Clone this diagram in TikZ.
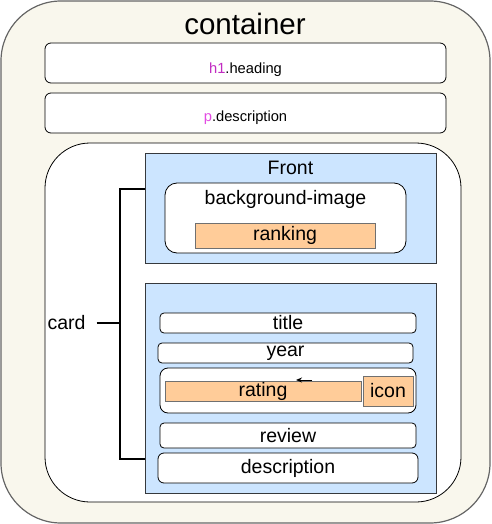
\documentclass[tikz,border=0pt]{standalone}
\usepackage{fontspec}
\setmainfont{Liberation Sans}
\usetikzlibrary{arrows.meta,positioning}
\definecolor{shellFill}{HTML}{F9F7ED}
\definecolor{shellLine}{HTML}{666666}
\definecolor{paneBlue}{HTML}{CCE5FF}
\definecolor{paneLine}{HTML}{36393D}
\definecolor{chipOrange}{HTML}{FFCC99}
\definecolor{chipLine}{HTML}{707070}
\definecolor{tagPurple}{HTML}{C22BC2}
\definecolor{tagPink}{HTML}{E34BE3}
\newcommand{\txt}[1]{\fontsize{#1}{#1}\selectfont}

\begin{document}
\begin{tikzpicture}[x=1pt, y=-1pt, inner sep=0pt,
    every node/.style={font=\txt{19.5}},
    whitebox/.style={draw=black, line width=0.8pt, fill=white, rounded corners=4pt},
    panebox/.style={draw=paneLine, line width=0.8pt, fill=paneBlue},
    chipbox/.style={draw=chipLine, line width=1pt, fill=chipOrange}]
    \useasboundingbox (0,0) rectangle (491,524);

    % outer container
    \node[draw=shellLine, line width=1.2pt, fill=shellFill, rounded corners=60pt, minimum width=489pt, minimum height=522pt] (container) at (245.5,262) {};
    \node[font=\txt{29.5}] (containerlabel) at (245,24) {container};
    \node[whitebox, rounded corners=6pt, minimum width=401pt, minimum height=40pt] (heading) at (245.5,63) {};
    \node[font=\txt{14.7}] (headingtext) at ([yshift=-7pt]heading.center) {\textcolor{tagPurple}{h1}.heading};
    \node[whitebox, rounded corners=6pt, minimum width=401pt, minimum height=40pt] (intro) at (245.5,113) {};
    \node[font=\txt{14.7}] (introtext) at ([yshift=-5pt]intro.center) {\textcolor{tagPink}{p}.description};

    % card
    \node[whitebox, rounded corners=45pt, minimum width=416pt, minimum height=359pt] (card) at (253,322.5) {};
    \node[panebox, minimum width=291pt, minimum height=110pt] (front) at (290.5,208) {};
    \node (fronttext) at (290.5,168) {Front};
    \node[whitebox, rounded corners=12pt, minimum width=241pt, minimum height=70pt] (bgimage) at (285.5,218) {};
    \node (bgimagetext) at (285.5,199) {background-image};
    \node[chipbox, minimum width=180pt, minimum height=25pt] (ranking) at (285,235.5) {ranking};

    \node[panebox, minimum width=291pt, minimum height=210pt] (back) at (290.5,388) {};
    \node[whitebox, minimum width=256pt, minimum height=20pt] (title) at (288,323) {title};
    \node[whitebox, minimum width=255pt, minimum height=20pt] (year) at (285.5,353) {year};
    \node[whitebox, rounded corners=8pt, minimum width=256pt, minimum height=45pt] (ratingrow) at (288,390.5) {};
    \node[chipbox, minimum width=196pt, minimum height=20pt] (rating) at (263,391) {rating};
    \node[chipbox, minimum width=50pt, minimum height=30pt] (icon) at (388,391) {icon};
    \node[whitebox, minimum width=256pt, minimum height=25pt] (review) at (288,435.5) {review};
    \node[whitebox, rounded corners=6pt, minimum width=260pt, minimum height=30pt] (desc) at (288,468) {description};

    % bracket
    \coordinate (brtop) at (145,189);
    \coordinate (brbot) at (145,459);
    \coordinate (brmid) at (120,323);
    \node (cardlabel) at (66.5,323) {card};
    \draw[line width=1.6pt] (brtop) -| (brmid) |- (brbot);
    \draw[line width=1.6pt, shorten <=11pt] (cardlabel.east) -- (brmid);

    \coordinate (flowtail) at (312,380);
    \draw[line width=1pt, -{Stealth[length=6pt, width=5pt]}] (flowtail) -- ++(-16,0);
\end{tikzpicture}
\end{document}
